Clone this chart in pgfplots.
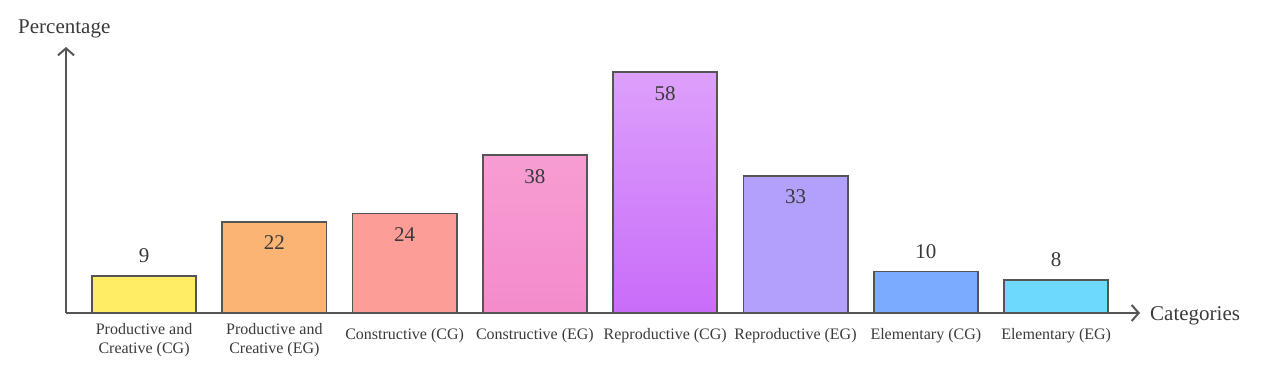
\documentclass[border=0pt]{standalone}
\usepackage{fontspec}
\setmainfont{Liberation Serif}
\usepackage{pgfplots}
\pgfplotsset{compat=1.18}
\usetikzlibrary{arrows.meta}
\definecolor{axisgray}{HTML}{555555}
\definecolor{txt}{HTML}{3A3A3A}
\definecolor{c1}{HTML}{FFED66}
\definecolor{c2}{HTML}{FBB474}
\definecolor{c3}{HTML}{FD9D98}
\definecolor{c4t}{HTML}{F79DD3}
\definecolor{c4b}{HTML}{F48BCB}
\definecolor{c5t}{HTML}{DDA0FB}
\definecolor{c5b}{HTML}{C86CF9}
\definecolor{c6}{HTML}{B3A0FC}
\definecolor{c7}{HTML}{7BABFE}
\definecolor{c8}{HTML}{6DD9FC}
\newcommand{\lo}{\rule{0pt}{16bp}}
\begin{document}
\begin{tikzpicture}
\path[use as bounding box] (0,0) rectangle (1265bp,372bp);
\begin{axis}[
  at={(66bp,59bp)}, anchor=south west,
  scale only axis,
  width=1074bp, height=266bp,
  xmin=-0.599, xmax=7.644,
  ymin=0, ymax=64.1,
  axis lines=left,
  axis line style={draw=axisgray, line width=2bp, -{Straight Barb[length=7bp,width=16bp,line width=2bp]}},
  ybar, bar shift=0pt, bar width=0.8,
  ytick=\empty,
  xtick={0,1,2,3,4,5,6,7},
  xticklabels={{Productive and\\Creative (CG)},{Productive and\\Creative (EG)},{\lo Constructive (CG)},{\lo Constructive (EG)},{\lo Reproductive (CG)},{\lo Reproductive (EG)},{\lo Elementary (CG)},{\lo Elementary (EG)}},
  major tick length=0pt,
  xticklabel style={align=center, font=\fontsize{16bp}{19bp}\selectfont, text=txt, inner sep=0pt, anchor=north, yshift=-10bp},
  /pgf/number format/assume math mode=true,
  nodes near coords,
  every node near coord/.style={font=\fontsize{21bp}{24bp}\selectfont, text=txt, inner sep=0pt},
  clip=false,
]
\pgfplotsset{inside/.style={every node near coord/.append style={anchor=north, yshift=-13bp}},
             outside/.style={every node near coord/.append style={anchor=south, yshift=12bp}}}
\addplot[draw=axisgray, line width=1.8bp, fill=c1, outside] coordinates {(0,9)};
\addplot[draw=axisgray, line width=1.8bp, fill=c2, inside] coordinates {(1,22)};
\addplot[draw=axisgray, line width=1.8bp, fill=c3, inside] coordinates {(2,24)};
\addplot[draw=axisgray, line width=1.8bp, top color=c4t, bottom color=c4b, inside] coordinates {(3,38)};
\addplot[draw=axisgray, line width=1.8bp, top color=c5t, bottom color=c5b, inside] coordinates {(4,58)};
\addplot[draw=axisgray, line width=1.8bp, fill=c6, inside] coordinates {(5,33)};
\addplot[draw=axisgray, line width=1.8bp, fill=c7, outside] coordinates {(6,10)};
\addplot[draw=axisgray, line width=1.8bp, fill=c8, outside] coordinates {(7,8)};
\node[anchor=base west, inner sep=0pt, text=txt, font=\fontsize{21bp}{24bp}\selectfont, xshift=10bp, yshift=-8bp] at (axis description cs:1,0) {Categories};
\node[anchor=base west, inner sep=0pt, text=txt, font=\fontsize{21bp}{24bp}\selectfont, xshift=-48bp, yshift=13bp] at (axis description cs:0,1) {Percentage};
\end{axis}
\end{tikzpicture}
\end{document}
